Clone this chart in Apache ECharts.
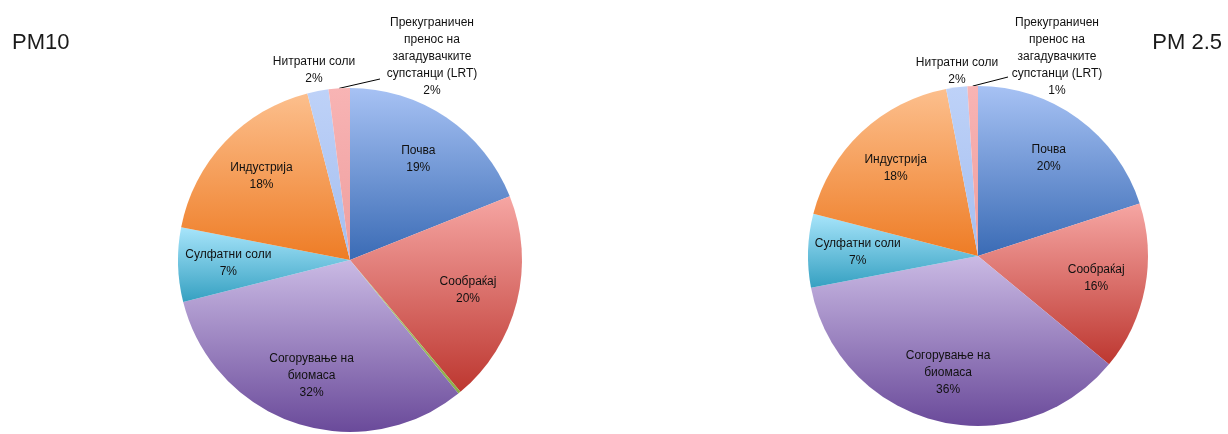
<!DOCTYPE html>
<html><head><meta charset="utf-8">
<script src="https://cdn.jsdelivr.net/npm/echarts@6/dist/echarts.min.js"></script>
<style>html,body{margin:0;padding:0;background:#fff}#c{width:1228px;height:434px}</style>
</head><body><div id="c"></div>
<script>
// ---- data ----
const categories = ['Почва', 'Сообраќај', 'Останато', 'Согорување на\nбиомаса', 'Сулфатни соли', 'Индустрија', 'Нитратни соли', 'Прекуграничен\nпренос на\nзагадувачките\nсупстанци (LRT)'];
const pm10Values = [19, 20, 0.25, 32, 7, 18, 2, 2];
const pm25Values = [20, 16, 0, 36, 7, 18, 2, 1];
const chartTitles = ['PM10', 'PM 2.5'];

// ---- styles ----
const sliceTop = ['#A7C2F4', '#F6A6A3', '#B4D27A', '#CABAE4', '#A8E5FB', '#FCBF8D', '#BED2F8', '#F8B4B4'];
const sliceBottom = ['#3A6BB5', '#BD3730', '#8AAE48', '#6A4A9A', '#35A0C1', '#EE7C25', '#A5BEEF', '#EE9E9E'];
const insideIdx = [0, 1, 3, 4, 5];
const NIT = 6, LRT = 7;
const textStyle = { fontFamily: 'Liberation Sans', fontSize: 12, lineHeight: 17, color: '#111111' };

const layouts = [
  { cx: 350, cy: 260, r: 172, nitDx: -36, nitDy: -18, lrtDx: 82, lrtDy: -31, lineDx: -52, lineDy: 22 },
  { cx: 978, cy: 256, r: 170, nitDx: -21, nitDy: -15, lrtDx: 79, lrtDy: -29, lineDx: -49, lineDy: 20 }
];

function grad(i) {
  return new echarts.graphic.LinearGradient(0, 0, 0, 1, [
    { offset: 0, color: sliceTop[i] }, { offset: 1, color: sliceBottom[i] }
  ]);
}

function buildData(values, forLabels) {
  return categories.map((name, i) => {
    const d = { name: name, value: values[i] };
    if (forLabels) {
      d.itemStyle = { color: 'rgba(0,0,0,0)' };
      d.label = { show: insideIdx.indexOf(i) >= 0 && values[i] > 0 };
    } else {
      d.itemStyle = { color: grad(i) };
      const small = (i === NIT || i === LRT);
      d.label = { show: small };
      d.labelLine = { show: i === LRT };
    }
    return d;
  });
}

function makeLabelLayout(L, values) {
  const total = values.reduce((a, b) => a + b, 0);
  return function (p) {
    const i = p.dataIndex;
    const top = L.cy - L.r;
    if (i === NIT) {
      return { x: L.cx + L.nitDx, y: top + L.nitDy, align: 'center', verticalAlign: 'middle' };
    }
    if (i === LRT) {
      let before = 0;
      for (let k = 0; k < i; k++) before += values[k];
      const th = (before + values[i] / 2) / total * Math.PI * 2;
      const start = [L.cx + L.r * Math.sin(th), L.cy - L.r * Math.cos(th)];
      const x = L.cx + L.lrtDx, y = top + L.lrtDy;
      return {
        x: x, y: y, align: 'center', verticalAlign: 'middle',
        labelLinePoints: [start, [x + L.lineDx, y + L.lineDy]]
      };
    }
  };
}

function pieSeries(values, L) {
  return [
    {
      type: 'pie', center: [L.cx, L.cy], radius: [0, L.r], startAngle: 90, clockwise: true,
      avoidLabelOverlap: false, silent: true, animation: false,
      label: Object.assign({ position: 'outside', formatter: '{b}\n{c}%' }, textStyle),
      labelLine: { show: true, length: 10, length2: 10, lineStyle: { color: '#000', width: 1 } },
      labelLayout: makeLabelLayout(L, values),
      data: buildData(values, false)
    },
    {
      type: 'pie', center: [L.cx, L.cy], radius: [L.r * 0.38, L.r], startAngle: 90, clockwise: true,
      avoidLabelOverlap: false, silent: true, animation: false,
      label: Object.assign({ position: 'inside', formatter: '{b}\n{c}%' }, textStyle),
      labelLine: { show: false },
      data: buildData(values, true)
    }
  ];
}

const chart = echarts.init(document.getElementById('c'), null, { renderer: 'canvas' });
chart.setOption({
  backgroundColor: '#fff',
  animation: false,
  title: [
    { text: chartTitles[0], left: 12, top: 32, padding: 0,
      textStyle: { fontFamily: 'Liberation Sans', fontSize: 22, fontWeight: 'normal', color: '#1a1a1a' } },
    { text: chartTitles[1], right: 6, top: 32, padding: 0,
      textStyle: { fontFamily: 'Liberation Sans', fontSize: 22, fontWeight: 'normal', color: '#1a1a1a' } }
  ],
  series: pieSeries(pm10Values, layouts[0]).concat(pieSeries(pm25Values, layouts[1]))
});
</script>
</body></html>
